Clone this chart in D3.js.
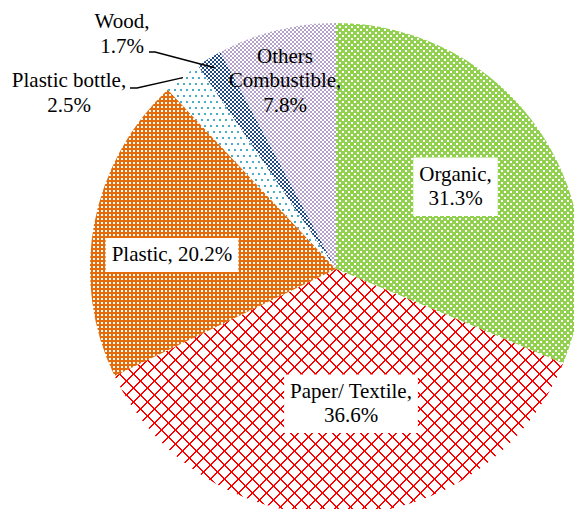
<!DOCTYPE html>
<html>
<head>
<meta charset="utf-8">
<script src="https://cdn.jsdelivr.net/npm/d3@7"></script>
<style>
  html, body { margin: 0; padding: 0; background: #fff; }
  svg { display: block; }
</style>
</head>
<body>
<svg id="chart" width="574" height="509"></svg>
<script>
// Waste composition (share of total, %)
const categories = ["Organic", "Paper/ Textile", "Plastic", "Plastic bottle", "Wood", "Others Combustible"];
const shares = [31.3, 36.6, 20.2, 2.5, 1.7, 7.8];
const sliceColors = ["#92D050", "#FF0000", "#E46C0A", "#4BACC6", "#1F497D", "#B3A2C7"];

// Label placement: how each label wraps, where it sits, and whether it gets a white box
const labelWrap = [["Organic,", "VALUE"], ["Paper/ Textile,", "VALUE"], ["Plastic, VALUE"],
                   ["Plastic bottle,", "VALUE"], ["Wood,", "VALUE"], ["Others", "Combustible,", "VALUE"]];
const labelAnchor = [[455.5, 180.5], [351, 397.5], [172, 261], [69, 87], [122, 28], [285, 62.5]];
const labelBoxed = [true, true, true, false, false, false];
// Leader lines for the two thin slices: [start point, elbow point, radius offset of end point]
const leaders = { 3: [[130, 88], [137, 88], -1], 4: [[149, 52], [155, 52], -11] };

const width = 574, height = 509;
const cx = 336, cy = 269, R = 246;
const fontSize = 21, lineH = 24.5, pad = 6;

const svg = d3.select("#chart");
const defs = svg.append("defs");

// Fill patterns for each slice
function makePattern(id, w, h, bg, build) {
  const p = defs.append("pattern").attr("id", id)
    .attr("patternUnits", "userSpaceOnUse").attr("width", w).attr("height", h);
  p.append("rect").attr("width", w).attr("height", h).attr("fill", bg);
  const g = p.append("g").attr("shape-rendering", "crispEdges");
  build(g);
}
function px(g, x, y, w, h, c) {
  g.append("rect").attr("x", x).attr("y", y).attr("width", w).attr("height", h).attr("fill", c);
}

// Organic: green with white squares
makePattern("pat0", 6, 6, sliceColors[0], g => {
  px(g, 0, 0, 2, 2, "#fff"); px(g, 3, 3, 2, 2, "#fff");
});
// Paper/Textile: red diagonal lattice on white
const lat = 14;
makePattern("pat1", lat, lat, "#fff", g => {
  for (let i = 0; i < lat; i++) {
    px(g, i, i, 1, 1, sliceColors[1]);
    px(g, (i + 1) % lat, i, 1, 1, sliceColors[1]);
    px(g, lat - 1 - i, i, 1, 1, sliceColors[1]);
    px(g, (lat - i) % lat, i, 1, 1, sliceColors[1]);
  }
});
// Plastic: orange with small white squares
makePattern("pat2", 4, 4, sliceColors[2], g => { px(g, 1, 1, 2, 2, "#fff"); });
// Plastic bottle: staggered blue dots on white
makePattern("pat3", 6, 12, "#fff", g => {
  px(g, 0, 0, 2, 2, sliceColors[3]); px(g, 3, 6, 2, 2, sliceColors[3]);
});
// Wood: fine navy checkerboard
makePattern("pat4", 4, 4, "#fff", g => {
  px(g, 0, 0, 2, 2, sliceColors[4]); px(g, 2, 2, 2, 2, sliceColors[4]);
});
// Others combustible: fine lilac checkerboard
makePattern("pat5", 4, 4, "#fff", g => {
  px(g, 0, 0, 2, 2, sliceColors[5]); px(g, 2, 2, 2, 2, sliceColors[5]);
});

const data = categories.map((c, i) => ({ name: c, value: shares[i], i }));
const pie = d3.pie().sort(null).value(d => d.value);
const arcs = pie(data);
const arc = d3.arc().innerRadius(0).outerRadius(R);

const g = svg.append("g").attr("transform", `translate(${cx},${cy})`);
g.selectAll("path.slice").data(arcs).join("path")
  .attr("class", "slice")
  .attr("d", arc)
  .attr("fill", d => `url(#pat${d.data.i})`);

// Leader lines
Object.entries(leaders).forEach(([k, [p0, p1, dr]]) => {
  const a = arcs[+k];
  const endArc = d3.arc().innerRadius(R + dr).outerRadius(R + dr);
  const [ex, ey] = endArc.centroid(a);
  svg.append("polyline")
    .attr("points", [p0, p1, [cx + ex, cy + ey]].map(p => p.join(",")).join(" "))
    .attr("fill", "none").attr("stroke", "#000").attr("stroke-width", 1.4);
});

// Labels
const fmt = v => `${v.toFixed(1)}%`;
const labels = svg.append("g")
  .attr("font-family", "'Liberation Serif', 'Times New Roman', serif")
  .attr("font-size", fontSize).attr("fill", "#000");

data.forEach((d, i) => {
  const lines = labelWrap[i].map(s => s.replace("VALUE", fmt(d.value)));
  const [x, y] = labelAnchor[i];
  const lg = labels.append("g");
  const t = lg.append("text").attr("text-anchor", "middle");
  lines.forEach((s, j) => {
    t.append("tspan").attr("x", x).attr("y", y + j * lineH).text(s);
  });
  if (labelBoxed[i]) {
    const bb = t.node().getBBox();
    lg.insert("rect", "text")
      .attr("x", bb.x - pad).attr("y", bb.y - pad + 2)
      .attr("width", bb.width + pad * 2).attr("height", bb.height + pad * 2 - 2)
      .attr("fill", "#fff");
  }
});
</script>
</body>
</html>
